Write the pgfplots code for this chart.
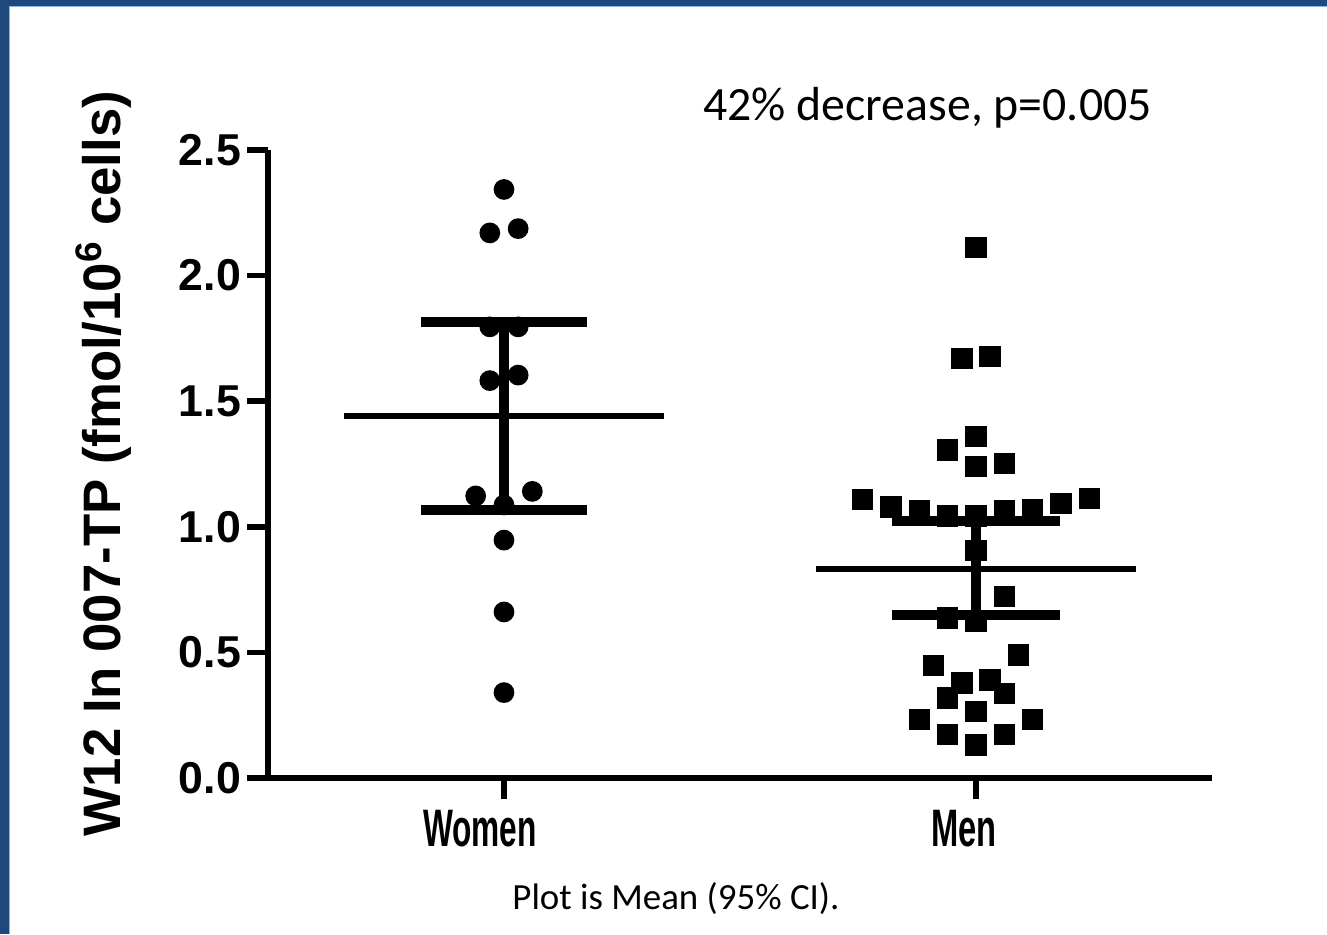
\documentclass[border=0pt]{standalone}
\usepackage{pgfplots}
\pgfplotsset{compat=1.18}
\usepackage{fontspec}
\setmainfont{Liberation Sans}
\newfontfamily\calibri{Carlito}
\definecolor{frameblue}{HTML}{1F497D}
\definecolor{framelight}{HTML}{8EB4E3}

\begin{document}
\begin{tikzpicture}
  % page: 1 px of the reference = 0.01 cm
  \path[use as bounding box] (0,0) rectangle (13.27,9.34);
  \fill[white] (0,0) rectangle (13.27,9.34);
  \fill[frameblue] (0,9.28) rectangle (13.27,9.34);
  \fill[frameblue] (0,0) rectangle (0.09,9.34);
  \draw[framelight, line width=0.3pt] (0.095,0) -- (0.095,9.275) -- (13.27,9.275);

  \begin{axis}[
    scale only axis,
    width=9.44cm, height=6.28cm,
    at={(2.68cm,1.56cm)}, anchor=south west,
    xmin=0.5, xmax=2.5,
    ymin=0, ymax=2.5,
    axis x line*=bottom,
    axis y line*=left,
    axis line style={line width=1.56pt, black},
    every tick/.style={line width=1.56pt, black},
    tick align=outside,
    major tick length=0.21cm,
    xtick={1,2},
    xticklabels={\hspace*{-0.48cm}\scalebox{0.6}[1]{Women},\hspace*{-0.24cm}\scalebox{0.62}[1]{Men}},
    ytick={0,0.5,...,2.5},
    /pgf/number format/assume math mode=true,
    /pgf/number format/fixed,
    /pgf/number format/fixed zerofill,
    /pgf/number format/precision=1,
    yticklabel style={font=\fontsize{12.7}{14}\selectfont\bfseries, inner sep=1.5pt},
    xticklabel style={font=\fontsize{15}{18}\selectfont\bfseries, inner sep=3pt},
    ylabel={W12 In 007-TP (fmol/10\textsuperscript{6} cells)},
    ylabel style={font=\fontsize{15}{18}\selectfont\bfseries, at={(axis description cs:-0.174,0.5)}, anchor=center},
    clip=false,
  ]
    % Women
    \addplot[only marks, mark=*, mark size=2.75pt, mark options={draw=none, fill=black}] coordinates {
      (1,2.343)
      (0.97,2.170) (1.03,2.187)
      (0.97,1.796) (1.03,1.796)
      (0.97,1.582) (1.03,1.604)
      (0.94,1.123) (1.06,1.141)
      (1,1.087)
      (1,0.947)
      (1,0.661)
      (1,0.340)
    };
    % Men
    \addplot[only marks, mark=square*, mark size=2.85pt, mark options={draw=none, fill=black}] coordinates {
      (2,2.112)
      (1.97,1.670) (2.03,1.677)
      (2,1.360)
      (1.94,1.306)
      (2,1.240) (2.06,1.253)
      (1.76,1.109) (1.82,1.079) (1.88,1.066) (1.94,1.043) (2,1.043)
      (2.06,1.065) (2.12,1.068) (2.18,1.092) (2.24,1.113)
      (2,0.906)
      (2.06,0.723)
      (1.94,0.637) (2,0.625)
      (2.09,0.489)
      (1.91,0.447)
      (1.97,0.378) (2.03,0.390)
      (1.94,0.319) (2.06,0.337)
      (2,0.264)
      (1.88,0.233) (2.12,0.233)
      (1.94,0.174) (2.06,0.174)
      (2,0.132)
    };
    % mean lines
    \addplot[black, line width=1.65pt] coordinates {(0.662,1.441) (1.338,1.441)};
    \addplot[black, line width=1.65pt] coordinates {(1.662,0.832) (2.338,0.832)};
    % 95% CI
    \addplot[black, line width=2.7pt] coordinates {(1,1.067) (1,1.815)};
    \addplot[black, line width=2.7pt] coordinates {(0.825,1.815) (1.175,1.815)};
    \addplot[black, line width=2.7pt] coordinates {(0.825,1.067) (1.175,1.067)};
    \addplot[black, line width=2.7pt] coordinates {(2,0.649) (2,1.023)};
    \addplot[black, line width=2.7pt] coordinates {(1.822,1.023) (2.178,1.023)};
    \addplot[black, line width=2.7pt] coordinates {(1.822,0.649) (2.178,0.649)};
  \end{axis}

  \node[anchor=base, font=\calibri\fontsize{13.6}{16}\selectfont] at (9.275,8.14) {42\% decrease, p=0.005};
  \node[anchor=base, font=\calibri\fontsize{10.5}{13}\selectfont] at (6.76,0.25) {Plot is Mean (95\% CI).};
\end{tikzpicture}
\end{document}
